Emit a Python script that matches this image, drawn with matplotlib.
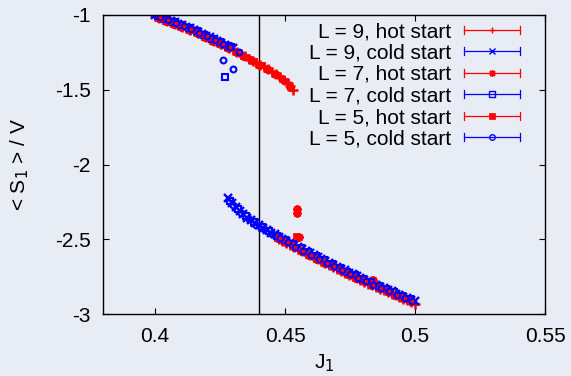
import numpy as np
import matplotlib
matplotlib.use("Agg")
import matplotlib.pyplot as plt
from matplotlib.lines import Line2D
from matplotlib.legend_handler import HandlerBase

plt.rcParams['font.family'] = ['Liberation Sans', 'DejaVu Sans']

# ---------------- data ----------------
# L = 9, hot start
J9h = [0.400, 0.4015, 0.403, 0.4045, 0.406, 0.4075, 0.409, 0.4105, 0.412, 0.4135,
       0.415, 0.4165, 0.418, 0.4195, 0.421, 0.4225, 0.424, 0.4255, 0.427, 0.4285,
       0.430, 0.4315, 0.433, 0.4345, 0.436, 0.4375, 0.439, 0.4405, 0.442, 0.4435,
       0.445, 0.4465, 0.448, 0.4495, 0.451, 0.452, 0.453,
       0.446, 0.4475, 0.449, 0.4505, 0.452, 0.4535, 0.455, 0.4565, 0.458, 0.4595,
       0.461, 0.4625, 0.464, 0.4655, 0.467, 0.4685, 0.470, 0.4715, 0.473, 0.4745,
       0.476, 0.4775, 0.479, 0.4805, 0.482, 0.4835, 0.485, 0.4865, 0.488, 0.4895,
       0.491, 0.4925, 0.494, 0.4955, 0.497, 0.4985, 0.500]
S9h = [-1.006, -1.017, -1.027, -1.038, -1.048, -1.058, -1.068, -1.079, -1.089, -1.100,
       -1.110, -1.123, -1.135, -1.148, -1.160, -1.172, -1.183, -1.196, -1.208, -1.221,
       -1.234, -1.248, -1.262, -1.277, -1.291, -1.305, -1.319, -1.334, -1.349, -1.363,
       -1.378, -1.396, -1.414, -1.434, -1.458, -1.476, -1.502,
       -2.480, -2.496, -2.510, -2.525, -2.539, -2.553, -2.567, -2.581, -2.594, -2.608,
       -2.621, -2.634, -2.647, -2.660, -2.673, -2.686, -2.699, -2.711, -2.724, -2.736,
       -2.748, -2.760, -2.772, -2.784, -2.796, -2.807, -2.819, -2.831, -2.842, -2.853,
       -2.864, -2.876, -2.887, -2.898, -2.908, -2.920, -2.930]

# L = 9, cold start
J9c = [0.400, 0.4015, 0.403, 0.4045, 0.406, 0.4075, 0.409, 0.4105, 0.412, 0.4135,
       0.415, 0.4165, 0.418, 0.4195, 0.421, 0.4225, 0.424, 0.4255, 0.427, 0.4285, 0.430,
       0.428, 0.4295, 0.431, 0.4325, 0.434, 0.4355, 0.437, 0.4385, 0.440, 0.4415,
       0.443, 0.4445, 0.446, 0.4475, 0.449, 0.4505, 0.452, 0.4535, 0.455, 0.4565,
       0.458, 0.4595, 0.461, 0.4625, 0.464, 0.4655, 0.467, 0.4685, 0.470, 0.4715,
       0.473, 0.4745, 0.476, 0.4775, 0.479, 0.4805, 0.482, 0.4835, 0.485, 0.4865,
       0.488, 0.4895, 0.491, 0.4925, 0.494, 0.4955, 0.497, 0.4985, 0.500]
S9c = [-1.000, -1.006, -1.017, -1.027, -1.038, -1.048, -1.058, -1.068, -1.079, -1.089,
       -1.100, -1.112, -1.125, -1.138, -1.150, -1.161, -1.173, -1.185, -1.198, -1.211, -1.224,
       -2.225, -2.255, -2.282, -2.310, -2.330, -2.355, -2.372, -2.393, -2.407, -2.425,
       -2.437, -2.455, -2.467, -2.484, -2.495, -2.512, -2.524, -2.541, -2.552, -2.568,
       -2.579, -2.595, -2.606, -2.622, -2.632, -2.648, -2.658, -2.674, -2.684, -2.699,
       -2.709, -2.724, -2.733, -2.748, -2.757, -2.772, -2.781, -2.795, -2.804, -2.818,
       -2.827, -2.841, -2.849, -2.863, -2.872, -2.885, -2.893, -2.907, -2.915]

# L = 7, hot start
J7h = [0.401, 0.404, 0.407, 0.410, 0.413, 0.416, 0.419, 0.422, 0.425, 0.428,
       0.431, 0.434, 0.437, 0.440, 0.443, 0.446, 0.449, 0.452,
       0.4545, 0.4545, 0.4555, 0.4838,
       0.447, 0.450, 0.453, 0.456, 0.459, 0.462, 0.465, 0.468, 0.471, 0.474,
       0.477, 0.480, 0.483, 0.486, 0.489, 0.492, 0.495, 0.498]
S7h = [-1.017, -1.038, -1.059, -1.079, -1.100, -1.122, -1.148, -1.172, -1.195, -1.221,
       -1.247, -1.276, -1.304, -1.333, -1.362, -1.394, -1.431, -1.480,
       -2.300, -2.325, -2.485, -2.775,
       -2.491, -2.520, -2.548, -2.576, -2.603, -2.630, -2.656, -2.682, -2.707, -2.732,
       -2.756, -2.780, -2.803, -2.827, -2.849, -2.872, -2.894, -2.916]

# L = 7, cold start
J7c = [0.401, 0.404, 0.407, 0.410, 0.413, 0.416, 0.419, 0.422, 0.425, 0.428,
       0.4271, 0.4292,
       0.429, 0.432, 0.435, 0.438, 0.441, 0.444, 0.447, 0.450, 0.453, 0.456,
       0.459, 0.462, 0.465, 0.468, 0.471, 0.474, 0.477, 0.480, 0.483, 0.486,
       0.489, 0.492, 0.495, 0.498]
S7c = [-1.004, -1.025, -1.046, -1.066, -1.087, -1.109, -1.135, -1.159, -1.182, -1.208,
       -1.417, -1.216,
       -2.243, -2.298, -2.344, -2.383, -2.416, -2.446, -2.475, -2.504, -2.532, -2.560,
       -2.587, -2.614, -2.640, -2.666, -2.691, -2.716, -2.740, -2.764, -2.787, -2.811,
       -2.833, -2.856, -2.878, -2.900]

# L = 5, hot start
J5h = [0.402, 0.405, 0.408, 0.411, 0.414, 0.417, 0.420, 0.423, 0.426, 0.429,
       0.432, 0.435, 0.438, 0.441, 0.444, 0.447, 0.450,
       0.4542,
       0.448, 0.451, 0.454, 0.457, 0.460, 0.463, 0.466, 0.469, 0.472, 0.475,
       0.478, 0.481, 0.484, 0.487, 0.490, 0.493, 0.496, 0.499]
S5h = [-1.018, -1.039, -1.059, -1.080, -1.101, -1.125, -1.150, -1.173, -1.198, -1.223,
       -1.251, -1.279, -1.308, -1.337, -1.366, -1.400, -1.439,
       -2.480,
       -2.499, -2.527, -2.556, -2.583, -2.610, -2.636, -2.663, -2.688, -2.713, -2.738,
       -2.762, -2.786, -2.809, -2.832, -2.855, -2.877, -2.899, -2.921]

# L = 5, cold start
J5c = [0.402, 0.405, 0.408, 0.411, 0.414, 0.417, 0.420, 0.423, 0.426, 0.429, 0.4323,
       0.4260, 0.4301,
       0.430, 0.433, 0.436, 0.439, 0.442, 0.445, 0.448, 0.451, 0.454, 0.457,
       0.460, 0.463, 0.466, 0.469, 0.472, 0.475, 0.478, 0.481, 0.484, 0.487,
       0.490, 0.493, 0.496, 0.499]
S5c = [-1.011, -1.032, -1.052, -1.073, -1.094, -1.118, -1.143, -1.166, -1.191, -1.216, -1.250,
       -1.301, -1.363,
       -2.270, -2.322, -2.366, -2.403, -2.434, -2.464, -2.493, -2.521, -2.550, -2.577,
       -2.604, -2.630, -2.657, -2.682, -2.707, -2.732, -2.756, -2.780, -2.803, -2.826,
       -2.849, -2.871, -2.893, -2.915]

labels = ["L = 9, hot start", "L = 9, cold start", "L = 7, hot start",
          "L = 7, cold start", "L = 5, hot start", "L = 5, cold start"]
J_transition = 0.44
xticks = [0.4, 0.45, 0.5, 0.55]
yticks = [-1, -1.5, -2, -2.5, -3]

# ---------------- styling ----------------
BG = '#e8ecf4'
RED = '#ff0000'
BLUE = '#0000ff'

series = [
    (J9h, S9h, dict(marker='+', color=RED, markersize=7, markeredgewidth=1.8)),
    (J9c, S9c, dict(marker='x', color=BLUE, markersize=5.5, markeredgewidth=1.7)),
    (J7h, S7h, dict(marker=(8, 2, 0), color=RED, markersize=6, markeredgewidth=1.5)),
    (J7c, S7c, dict(marker='s', color=BLUE, markerfacecolor='none', markersize=4, markeredgewidth=1.5)),
    (J5h, S5h, dict(marker='s', color=RED, markersize=4.5, markeredgewidth=0.5)),
    (J5c, S5c, dict(marker='o', color=BLUE, markerfacecolor='none', markersize=4.2, markeredgewidth=1.5)),
]
legend_ms = [5, 4.5, 5, 4, 5, 4]
legend_mew = [1.0, 1.0, 1.0, 1.0, 0.5, 1.0]

fig = plt.figure(figsize=(5.71, 3.76), dpi=100, facecolor=BG)
ax = fig.add_axes([103/571, 1 - 314/376, (545-103)/571, (314-15)/376])
ax.set_facecolor(BG)

handles = []
for (J, S, st), lab in zip(series, labels):
    h, = ax.plot(J, S, linestyle='none', label=lab, **st)
    handles.append(h)

ax.axvline(J_transition, color='black', lw=1.0, zorder=0.5)

ax.set_xlim(0.38, 0.55)
ax.set_ylim(-3, -1)
ax.set_xticks(xticks)
ax.set_xticklabels(['0.4', '0.45', '0.5', '0.55'])
ax.set_yticks(yticks)
ax.set_yticklabels(['-1', '-1.5', '-2', '-2.5', '-3'])
ax.tick_params(direction='in', length=4, width=0.8, top=True, right=True,
               labelsize=15, color='black')
ax.tick_params(axis='x', pad=9)
ax.tick_params(axis='y', pad=9)
for sp in ax.spines.values():
    sp.set_linewidth(1.0)
    sp.set_color('black')

ax.set_xlabel('J$_1$', fontsize=15, labelpad=5)
ax.set_ylabel('< S$_1$ > / V', fontsize=15, labelpad=17)


class HandlerErr(HandlerBase):
    def __init__(self, ms, mew):
        super().__init__()
        self.ms = ms
        self.mew = mew

    def create_artists(self, legend, orig_handle, xdescent, ydescent,
                       width, height, fontsize, trans):
        x0 = -xdescent
        x1 = width - xdescent
        y = (height - ydescent) / 2
        c = orig_handle.get_color()
        cap = 3.0
        line = Line2D([x0, x1], [y, y], color=c, lw=0.9)
        caps = Line2D([x0, x0, np.nan, x1, x1], [y - cap, y + cap, np.nan, y - cap, y + cap],
                      color=c, lw=0.9)
        mk = Line2D([(x0 + x1) / 2], [y], linestyle='none',
                    marker=orig_handle.get_marker(), color=c,
                    markerfacecolor=orig_handle.get_markerfacecolor(),
                    markeredgecolor=orig_handle.get_markeredgecolor(),
                    markersize=self.ms, markeredgewidth=self.mew)
        for a in (line, caps, mk):
            a.set_transform(trans)
        return [line, caps, mk]


hmap = {h: HandlerErr(ms, mew) for h, ms, mew in zip(handles, legend_ms, legend_mew)}
leg = ax.legend(handles=handles, labels=labels, loc='upper right',
                bbox_to_anchor=((520 - 103) / 442, 1 - (22 - 15) / 299),
                handler_map=hmap,
                markerfirst=False, frameon=False, fontsize=15,
                handlelength=2.7, handletextpad=0.6, labelspacing=0.12,
                borderaxespad=0.0, borderpad=0.0)

fig.savefig('out.png', dpi=100, facecolor=BG)
